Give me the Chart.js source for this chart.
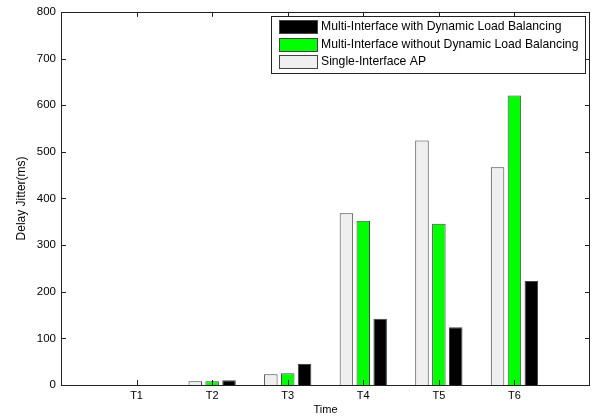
<!DOCTYPE html>
<html lang="en">
<head>
  <meta charset="UTF-8">
  <title>Delay Jitter</title>
  <script src="https://cdn.jsdelivr.net/npm/chart.js"></script>
  <style>
    body {
      margin: 0;
      background: #fff;
    }
    canvas {
      display: block;
    }
  </style>
</head>
<body>
  <canvas id="jitterChart" width="594" height="419"></canvas>

  <script>
    // Values (ms)
    const categories = ['T1', 'T2', 'T3', 'T4', 'T5', 'T6'];
    const singleAP = [0, 8, 23, 368, 524, 467];
    const withoutDLB = [0, 8, 25, 352, 346, 621];
    const withDLB = [0, 10, 45, 142, 124, 223];
    const yTicks = [0, 100, 200, 300, 400, 500, 600, 700, 800];

    // empty slots at both ends, like the matlab x limits 0..7
    const xLabels = [''].concat(categories, ['']);
    const pad = arr => [null].concat(arr, [null]);

    const font = 'Liberation Sans, Arial, sans-serif';

    // axes box, inward ticks and the legend box inside the plot
    const matlabLook = {
      id: 'matlabLook',
      afterDraw(chart) {
        const ctx = chart.ctx;
        const a = chart.chartArea;
        const xs = chart.scales.x, ys = chart.scales.y;
        ctx.save();
        ctx.strokeStyle = '#222';
        ctx.lineWidth = 1;
        ctx.strokeRect(Math.round(a.left) + 0.5, Math.round(a.top) + 0.5,
          Math.round(a.right - a.left) - 1, Math.round(a.bottom - a.top));

        ctx.beginPath();
        yTicks.forEach(v => {
          const y = Math.round(ys.getPixelForValue(v)) + 0.5;
          ctx.moveTo(a.left, y); ctx.lineTo(a.left + 5, y);
          ctx.moveTo(a.right, y); ctx.lineTo(a.right - 5, y);
        });
        xLabels.forEach((lab, i) => {
          if (!lab) return;
          const x = Math.round(xs.getPixelForValue(i)) + 0.5;
          ctx.moveTo(x, a.bottom); ctx.lineTo(x, a.bottom - 5);
          ctx.moveTo(x, a.top); ctx.lineTo(x, a.top + 5);
        });
        ctx.stroke();

        // legend
        const lx = 271, ly = 16, lw = 314, lh = 57;
        ctx.fillStyle = '#fff';
        ctx.fillRect(lx, ly, lw, lh);
        ctx.strokeRect(lx + 0.5, ly + 0.5, lw, lh);
        const sets = chart.data.datasets.slice().reverse();
        ctx.font = '12.2px ' + font;
        ctx.textBaseline = 'middle';
        sets.forEach((ds, i) => {
          const cy = 26.5 + i * 17.5;
          ctx.fillStyle = ds.backgroundColor;
          ctx.fillRect(279, Math.round(cy - 6.5), 38, 13);
          ctx.strokeStyle = '#444';
          ctx.strokeRect(279.5, Math.round(cy - 6.5) + 0.5, 38, 13);
          ctx.fillStyle = '#000';
          ctx.fillText(ds.label, 321, cy + 0.5);
        });
        ctx.restore();
      }
    };

    const ctx = document.getElementById('jitterChart').getContext('2d');
    new Chart(ctx, {
      type: 'bar',
      data: {
        labels: xLabels,
        datasets: [
          { label: 'Single-Interface AP', data: pad(singleAP), backgroundColor: '#efefef' },
          { label: 'Multi-Interface without Dynamic Load Balancing', data: pad(withoutDLB), backgroundColor: '#00ff00' },
          { label: 'Multi-Interface with Dynamic Load Balancing', data: pad(withDLB), backgroundColor: '#000000' }
        ].map(d => Object.assign(d, {
          borderColor: '#444',
          borderWidth: 1,
          categoryPercentage: 0.67,
          barPercentage: 0.8
        }))
      },
      options: {
        responsive: false,
        devicePixelRatio: 1,
        animation: false,
        layout: { padding: { top: 9, right: 3, left: 0, bottom: 0 } },
        plugins: {
          legend: { display: false },
          tooltip: { enabled: false }
        },
        scales: {
          x: {
            offset: false,
            grid: { display: false, drawTicks: false },
            border: { display: false },
            ticks: {
              autoSkip: false, maxRotation: 0, minRotation: 0,
              padding: 4, color: '#000',
              font: { family: font, size: 11 }
            },
            title: {
              display: true, text: 'Time', color: '#000',
              font: { family: font, size: 11 },
              padding: { top: 0, bottom: 2 }
            },
            afterFit(scale) { scale.height = 34; }
          },
          y: {
            min: 0,
            max: 800,
            grid: { display: false, drawTicks: false },
            border: { display: false },
            ticks: {
              stepSize: 100, padding: 5, color: '#000',
              font: { family: font, size: 11.5 }
            },
            title: {
              display: true, text: 'Delay Jitter(ms)', color: '#000',
              font: { family: font, size: 12 },
              padding: { top: 14, bottom: 0 }
            },
            afterFit(scale) { scale.width = 61; }
          }
        }
      },
      plugins: [matlabLook]
    });
  </script>
</body>
</html>
